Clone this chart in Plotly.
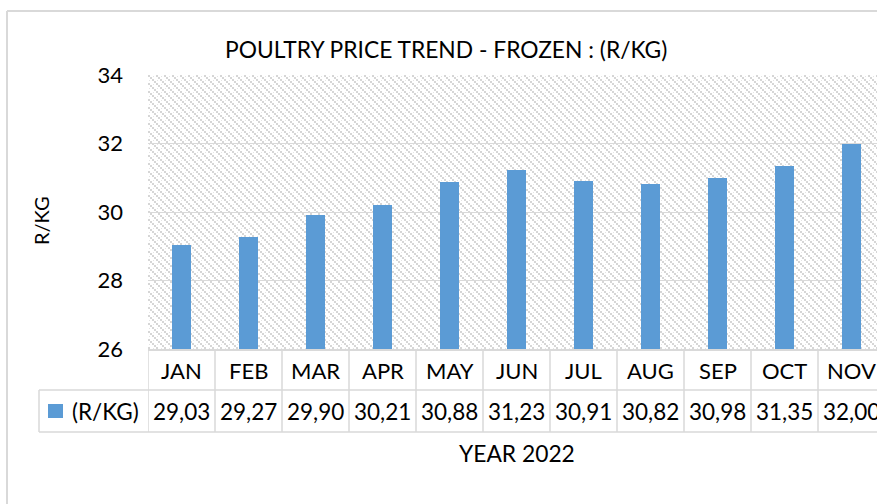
import base64
import plotly.graph_objects as go

# ---------------- data ----------------
months = ["JAN", "FEB", "MAR", "APR", "MAY", "JUN", "JUL", "AUG", "SEP", "OCT", "NOV"]
prices = [29.03, 29.27, 29.90, 30.21, 30.88, 31.23, 30.91, 30.82, 30.98, 31.35, 32.00]
y_tick_values = [26, 28, 30, 32, 34]
series_name = "(R/KG)"
chart_title = "POULTRY PRICE TREND - FROZEN : (R/KG)"
x_title = "YEAR 2022"
y_title = "R/KG"

# ---------------- layout geometry ----------------
W, H = 877, 504
L, R, T, B = 148, 0, 75, 155
PW = W - L - R
PH = H - T - B
CAT_W = 67.0
BAR_COLOR = "#5B9BD5"
GRID = "#d9d9d9"
FONT = "Lato"


def px(x):
    return (x - L) / PW


def py(y):
    return (H - B - y) / PH


x_range = [-0.5, -0.5 + PW / CAT_W]

# patterned plot background (light grey dithered diagonal)
svg = f'''<svg xmlns="http://www.w3.org/2000/svg" width="{PW}" height="{PH}" viewBox="0 0 {PW} {PH}">
<defs><pattern id="p" width="8" height="8" patternUnits="userSpaceOnUse">
<rect width="8" height="8" fill="#ffffff"/>
<rect x="0" y="0" width="2" height="2" fill="#d6d6d6"/>
<rect x="2" y="2" width="2" height="2" fill="#d6d6d6"/>
<rect x="4" y="4" width="2" height="2" fill="#d6d6d6"/>
<rect x="6" y="6" width="2" height="2" fill="#d6d6d6"/>
<rect x="5" y="1" width="1" height="1" fill="#e4e4e4"/>
<rect x="1" y="5" width="1" height="1" fill="#e4e4e4"/>
</pattern></defs>
<rect width="{PW}" height="{PH}" fill="url(#p)" shape-rendering="crispEdges"/></svg>'''
svg_uri = "data:image/svg+xml;base64," + base64.b64encode(svg.encode()).decode()

fig = go.Figure()
fig.add_trace(go.Bar(
    x=list(range(len(months))), y=prices, width=0.28,
    marker=dict(color=BAR_COLOR, line=dict(width=0)),
    name=series_name, showlegend=False, hoverinfo="skip",
))

shapes = []
# table: vertical cell borders at category boundaries
for k in range(len(months) + 1):
    shapes.append(dict(type="line", xref="x", yref="paper", x0=k - 0.5, x1=k - 0.5,
                       y0=py(432), y1=py(349), line=dict(color=GRID, width=1.5)))
# table horizontal borders
for yy in (390, 432):
    shapes.append(dict(type="line", xref="paper", yref="paper", x0=px(39), x1=px(W + 20),
                       y0=py(yy), y1=py(yy), line=dict(color=GRID, width=1.5)))
shapes.append(dict(type="line", xref="paper", yref="paper", x0=px(39), x1=px(39),
                   y0=py(432), y1=py(390), line=dict(color=GRID, width=1.5)))
# legend key
shapes.append(dict(type="rect", xref="paper", yref="paper", x0=px(48), x1=px(63),
                   y0=py(418), y1=py(404), fillcolor=BAR_COLOR, line=dict(width=0)))
# outer chart border
shapes.append(dict(type="line", xref="paper", yref="paper", x0=px(7), x1=px(W + 20),
                   y0=py(11), y1=py(11), line=dict(color=GRID, width=2)))
shapes.append(dict(type="line", xref="paper", yref="paper", x0=px(7), x1=px(7),
                   y0=py(11), y1=py(H + 20), line=dict(color=GRID, width=2)))

annotations = []
cat_font = dict(family=FONT, size=22, color="#000000")
val_font = dict(family=FONT, size=22.5, color="#000000")
for i, (m, v) in enumerate(zip(months, prices)):
    annotations.append(dict(x=i, y=py(370), xref="x", yref="paper", text=m, showarrow=False,
                            font=cat_font, xanchor="center", yanchor="middle"))
    annotations.append(dict(x=i, y=py(411), xref="x", yref="paper",
                            text=f"{v:.2f}".replace(".", ","), showarrow=False,
                            font=val_font, xanchor="center", yanchor="middle"))
annotations.append(dict(x=px(105), y=py(411), xref="paper", yref="paper", text=series_name,
                        showarrow=False, font=val_font, xanchor="center", yanchor="middle"))
annotations.append(dict(x=px(517), y=py(453), xref="paper", yref="paper", text=x_title,
                        showarrow=False, font=dict(family=FONT, size=22.8, color="#000000"),
                        xanchor="center", yanchor="middle"))
annotations.append(dict(x=px(446), y=py(49), xref="paper", yref="paper", text=chart_title,
                        showarrow=False, font=dict(family=FONT, size=22.8, color="#000000"),
                        xanchor="center", yanchor="middle"))
annotations.append(dict(x=px(41), y=py(221), xref="paper", yref="paper", text=y_title,
                        showarrow=False, textangle=-90,
                        font=dict(family=FONT, size=20, color="#000000"),
                        xanchor="center", yanchor="middle"))

fig.update_layout(
    width=W, height=H,
    margin=dict(l=L, r=R, t=T, b=B, pad=0),
    paper_bgcolor="#ffffff", plot_bgcolor="rgba(0,0,0,0)",
    bargap=0,
    xaxis=dict(range=x_range, showticklabels=False, showgrid=False, zeroline=False,
               showline=True, linecolor=GRID, linewidth=1.5, ticks="", fixedrange=True),
    yaxis=dict(range=[26, 34], tickvals=y_tick_values, showgrid=True, gridcolor=GRID,
               gridwidth=1.3, zeroline=False, showline=False, ticks="",
               ticklabelstandoff=24, tickfont=dict(family=FONT, size=22, color="#000000"),
               fixedrange=True),
    images=[dict(source=svg_uri, xref="paper", yref="paper", x=0, y=1, sizex=1, sizey=1,
                 xanchor="left", yanchor="top", sizing="stretch", layer="below")],
    shapes=shapes,
    annotations=annotations,
    showlegend=False,
)

fig.write_html(
    "out.html",
    config={"displayModeBar": False},
    post_script="document.body.style.margin='0';document.body.style.overflow='hidden';",
)
